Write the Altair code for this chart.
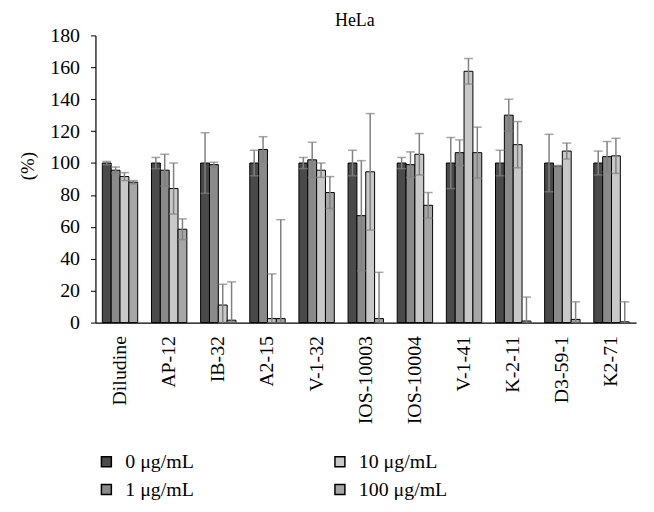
import altair as alt
import pandas as pd

categories = ["Diludine", "AP-12", "IB-32", "A2-15", "V-1-32", "IOS-10003",
              "IOS-10004", "V-1-41", "K-2-11", "D3-59-1", "K2-71"]
series = ["0 μg/mL", "1 μg/mL", "10 μg/mL", "100 μg/mL"]

v0 = [100, 100, 100, 100, 100, 100, 100, 100, 100, 100, 100]
e0 = [1, 3.5, 19, 8, 3.5, 8, 3.5, 16, 8, 18, 7.5]
v1 = [95.5, 95.5, 99, 108.5, 102, 67, 99, 106.5, 130, 98, 104]
e1 = [2, 10, 1.5, 8, 11, 34.5, 8, 8, 10, 0.5, 9.5]
v10 = [91.5, 84, 11, 2.5, 95.5, 94.5, 105.5, 157.5, 111.5, 107.5, 104.5]
e10 = [2.5, 16, 13, 28, 4.5, 36.5, 13, 8, 14.5, 5, 11]
v100 = [88, 58.5, 1.5, 2.5, 81.5, 2.5, 73.5, 106.5, 1, 2, 0.5]
e100 = [1, 6.5, 24, 62, 10, 29, 8, 16, 15, 11, 12.5]

rows = []
for s, vals, errs in zip(series, [v0, v1, v10, v100], [e0, e1, e10, e100]):
    for c, v, e in zip(categories, vals, errs):
        rows.append({"compound": c, "dose": s, "value": v,
                     "lo": max(v - e, 0), "hi": v + e})
df = pd.DataFrame(rows)

font = "Liberation Serif"
fills = {"0 μg/mL": "#4a4a4a", "1 μg/mL": "#8a8a8a",
         "10 μg/mL": "#c8c8c8", "100 μg/mL": "#a6a6a6"}

xenc = alt.X("compound:N", sort=categories,
             scale=alt.Scale(paddingInner=0.28, paddingOuter=0.14),
             axis=alt.Axis(title=None, labelAngle=-90, labelFont=font,
                           labelFontSize=20, labelColor="black", ticks=False,
                           domainColor="black", domainWidth=1.2,
                           labelPadding=13, labelAlign="right",
                           labelBaseline="middle"))
xoff = alt.XOffset("dose:N", sort=series,
                   scale=alt.Scale(paddingInner=0, paddingOuter=0))
yscale = alt.Scale(domain=[0, 180])
yaxis = alt.Axis(values=list(range(0, 181, 20)), title="(%)", grid=False,
                 labelFont=font, labelFontSize=20, labelColor="black",
                 tickColor="black", tickSize=5, domainColor="black",
                 domainWidth=1.2, labelPadding=11, titleFont=font,
                 titleFontSize=19, titleFontWeight="normal", titleColor="black",
                 titleX=-68, titleY=131, titleAlign="center",
                 titleBaseline="middle", titleAngle=-90)

bars = alt.Chart(df).mark_bar(stroke="black", strokeWidth=1).encode(
    x=xenc, xOffset=xoff,
    y=alt.Y("value:Q", scale=yscale, axis=yaxis),
    fill=alt.Fill("dose:N",
                  scale=alt.Scale(domain=series,
                                  range=[fills[s] for s in series]),
                  legend=alt.Legend(title=None, orient="none", legendX=1,
                                    legendY=419, columns=2, columnPadding=136,
                                    rowPadding=8, labelFont=font,
                                    labelFontSize=20, labelColor="black",
                                    symbolType="square", symbolSize=100,
                                    symbolStrokeColor="black",
                                    symbolStrokeWidth=1.5, labelOffset=9,
                                    padding=0)),
)

rules = alt.Chart(df).mark_rule(color="#808080", strokeWidth=1.5).encode(
    x=xenc, xOffset=xoff,
    y=alt.Y("lo:Q", scale=yscale, axis=yaxis), y2="hi:Q")
cap_hi = alt.Chart(df).mark_tick(color="#808080", size=9, thickness=1.5).encode(
    x=xenc, xOffset=xoff, y=alt.Y("hi:Q", scale=yscale, axis=yaxis))
cap_lo = alt.Chart(df).mark_tick(color="#808080", size=9, thickness=1.5).encode(
    x=xenc, xOffset=xoff, y=alt.Y("lo:Q", scale=yscale, axis=yaxis))

chart = alt.layer(bars, rules, cap_hi, cap_lo).properties(
    width=544, height=289,
    title=alt.TitleParams("HeLa", font=font, fontSize=18, fontWeight="normal",
                          color="black", anchor="middle", frame="group",
                          dx=-11, offset=-5),
    padding={"left": 88, "top": 26, "right": 10, "bottom": 182},
    autosize=alt.AutoSizeParams(type="none"),
).configure_view(stroke=None)

chart.save("out.html", embed_options={"renderer": "svg", "actions": False})
